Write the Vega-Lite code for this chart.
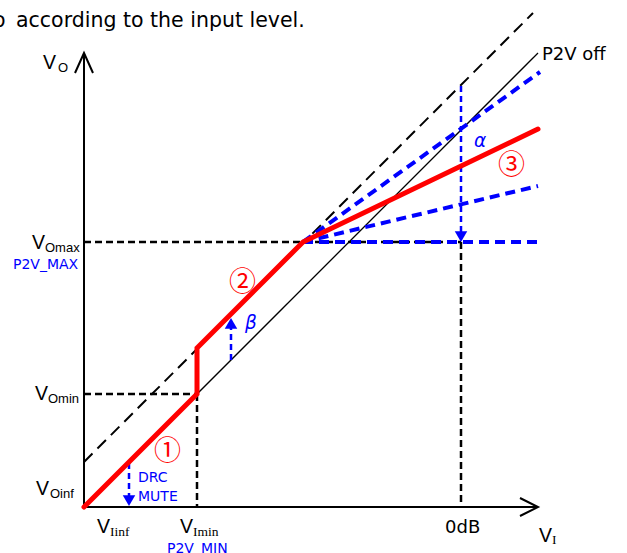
{
  "$schema": "https://vega.github.io/schema/vega-lite/v6.json",
  "width": 627,
  "height": 553,
  "padding": 0,
  "autosize": {"type": "none"},
  "background": "white",
  "config": {"view": {"stroke": null}},
  "datasets": {
    "paths": [
      {"g": "axis", "id": "a1", "o": 1, "x": 84, "y": 507},
      {"g": "axis", "id": "a1", "o": 2, "x": 84, "y": 55},
      {"g": "axis", "id": "a2", "o": 1, "x": 75, "y": 73},
      {"g": "axis", "id": "a2", "o": 2, "x": 84, "y": 53},
      {"g": "axis", "id": "a2", "o": 3, "x": 93, "y": 73},
      {"g": "axis", "id": "a3", "o": 1, "x": 84, "y": 507},
      {"g": "axis", "id": "a3", "o": 2, "x": 537, "y": 507},
      {"g": "axis", "id": "a4", "o": 1, "x": 520, "y": 498},
      {"g": "axis", "id": "a4", "o": 2, "x": 538, "y": 507},
      {"g": "axis", "id": "a4", "o": 3, "x": 520, "y": 516},
      {"g": "thin", "id": "p", "o": 1, "x": 84, "y": 507},
      {"g": "thin", "id": "p", "o": 2, "x": 538, "y": 53},
      {"g": "dlong", "id": "d", "o": 1, "x": 84, "y": 462},
      {"g": "dlong", "id": "d", "o": 2, "x": 533, "y": 13},
      {"g": "dshort", "id": "h1", "o": 1, "x": 84, "y": 242},
      {"g": "dshort", "id": "h1", "o": 2, "x": 461, "y": 242},
      {"g": "dshort", "id": "h2", "o": 1, "x": 84, "y": 394},
      {"g": "dshort", "id": "h2", "o": 2, "x": 197, "y": 394},
      {"g": "dshort", "id": "v1", "o": 1, "x": 197, "y": 394},
      {"g": "dshort", "id": "v1", "o": 2, "x": 197, "y": 507},
      {"g": "dshort", "id": "v2", "o": 1, "x": 461, "y": 242},
      {"g": "dshort", "id": "v2", "o": 2, "x": 461, "y": 507},
      {"g": "bthick", "id": "b1", "o": 1, "x": 303, "y": 242},
      {"g": "bthick", "id": "b1", "o": 2, "x": 540, "y": 72},
      {"g": "bthick", "id": "b2", "o": 1, "x": 303, "y": 242},
      {"g": "bthick", "id": "b2", "o": 2, "x": 538, "y": 186},
      {"g": "bthick", "id": "b3", "o": 1, "x": 303, "y": 242},
      {"g": "bthick", "id": "b3", "o": 2, "x": 538, "y": 242},
      {"g": "bthin", "id": "t1", "o": 1, "x": 461, "y": 86},
      {"g": "bthin", "id": "t1", "o": 2, "x": 461, "y": 232},
      {"g": "bthin", "id": "t2", "o": 1, "x": 231, "y": 360},
      {"g": "bthin", "id": "t2", "o": 2, "x": 231, "y": 328},
      {"g": "bthin", "id": "t3", "o": 1, "x": 129, "y": 463},
      {"g": "bthin", "id": "t3", "o": 2, "x": 129, "y": 496},
      {"g": "red", "id": "r", "o": 1, "x": 84, "y": 507},
      {"g": "red", "id": "r", "o": 2, "x": 197, "y": 394},
      {"g": "red", "id": "r", "o": 3, "x": 197, "y": 348},
      {"g": "red", "id": "r", "o": 4, "x": 303, "y": 242},
      {"g": "red", "id": "r", "o": 5, "x": 538, "y": 129}
    ],
    "heads": [
      {"x": 461, "y": 236.6, "dir": "down"},
      {"x": 231, "y": 323.4, "dir": "up"},
      {"x": 129, "y": 500.6, "dir": "down"}
    ],
    "labels": [
      {"k": "title", "t": "o", "x": -7, "y": 27},
      {"k": "title", "t": "according to the input level.", "x": 16, "y": 27},
      {"k": "V", "t": "V", "x": 43, "y": 69},
      {"k": "subO", "t": "O", "x": 58, "y": 72},
      {"k": "V", "t": "V", "x": 32, "y": 249},
      {"k": "subO", "t": "Omax", "x": 45, "y": 252},
      {"k": "V", "t": "V", "x": 35, "y": 400},
      {"k": "subO", "t": "Omin", "x": 48, "y": 403},
      {"k": "V", "t": "V", "x": 36, "y": 495},
      {"k": "subO", "t": "Oinf", "x": 50, "y": 498},
      {"k": "V", "t": "V", "x": 97, "y": 533},
      {"k": "subI", "t": "Iinf", "x": 110, "y": 536},
      {"k": "V", "t": "V", "x": 180, "y": 533},
      {"k": "subI", "t": "Imin", "x": 193, "y": 536},
      {"k": "V", "t": "V", "x": 539, "y": 542},
      {"k": "subI", "t": "I", "x": 552, "y": 544},
      {"k": "black", "t": "0dB", "x": 445, "y": 533},
      {"k": "black", "t": "P2V off", "x": 542, "y": 60},
      {"k": "blue", "t": "P2V_MAX", "x": 13, "y": 269},
      {"k": "blue", "t": "P2V_MIN", "x": 167, "y": 552.5},
      {"k": "blue", "t": "DRC", "x": 138, "y": 482},
      {"k": "blue", "t": "MUTE", "x": 138, "y": 501},
      {"k": "greek", "t": "α", "x": 474, "y": 147},
      {"k": "greek", "t": "β", "x": 245, "y": 329},
      {"k": "circ", "t": "①", "x": 167.5, "y": 452},
      {"k": "circ", "t": "②", "x": 242.5, "y": 283},
      {"k": "circ", "t": "③", "x": 511.5, "y": 165.5}
    ]
  },
  "encoding": {
    "x": {"field": "x", "type": "quantitative", "scale": {"domain": [0, 627], "nice": false, "zero": false}, "axis": null},
    "y": {"field": "y", "type": "quantitative", "scale": {"domain": [0, 553], "reverse": true, "nice": false, "zero": false}, "axis": null}
  },
  "layer": [
    {
      "data": {"name": "paths"},
      "transform": [{"filter": "datum.g == 'thin'"}],
      "mark": {"type": "line", "color": "black", "strokeWidth": 1.3},
      "encoding": {"detail": {"field": "id"}, "order": {"field": "o", "type": "quantitative"}}
    },
    {
      "data": {"name": "paths"},
      "transform": [{"filter": "datum.g == 'dlong'"}],
      "mark": {"type": "line", "color": "black", "strokeWidth": 2, "strokeDash": [12, 7]},
      "encoding": {"detail": {"field": "id"}, "order": {"field": "o", "type": "quantitative"}}
    },
    {
      "data": {"name": "paths"},
      "transform": [{"filter": "datum.g == 'dshort'"}],
      "mark": {"type": "line", "color": "black", "strokeWidth": 2.5, "strokeDash": [7, 4]},
      "encoding": {"detail": {"field": "id"}, "order": {"field": "o", "type": "quantitative"}}
    },
    {
      "data": {"name": "paths"},
      "transform": [{"filter": "datum.g == 'axis'"}],
      "mark": {"type": "line", "color": "black", "strokeWidth": 2},
      "encoding": {"detail": {"field": "id"}, "order": {"field": "o", "type": "quantitative"}}
    },
    {
      "data": {"name": "paths"},
      "transform": [{"filter": "datum.g == 'bthick'"}],
      "mark": {"type": "line", "color": "#0000ff", "strokeWidth": 4, "strokeDash": [10, 6]},
      "encoding": {"detail": {"field": "id"}, "order": {"field": "o", "type": "quantitative"}}
    },
    {
      "data": {"name": "paths"},
      "transform": [{"filter": "datum.g == 'bthin'"}],
      "mark": {"type": "line", "color": "#0000ff", "strokeWidth": 2.5, "strokeDash": [6, 4]},
      "encoding": {"detail": {"field": "id"}, "order": {"field": "o", "type": "quantitative"}}
    },
    {
      "data": {"name": "heads"},
      "mark": {"type": "point", "filled": true, "color": "#0000ff", "opacity": 1, "size": 156, "strokeWidth": 0},
      "encoding": {
        "shape": {"field": "dir", "type": "nominal", "scale": {"domain": ["down", "up"], "range": ["triangle-down", "triangle-up"]}, "legend": null}
      }
    },
    {
      "data": {"name": "paths"},
      "transform": [{"filter": "datum.g == 'red'"}],
      "mark": {"type": "line", "color": "#ff0000", "strokeWidth": 5, "strokeCap": "round", "strokeJoin": "miter"},
      "encoding": {"detail": {"field": "id"}, "order": {"field": "o", "type": "quantitative"}}
    },
    {
      "data": {"name": "labels"},
      "transform": [{"filter": "datum.k == 'title'"}],
      "mark": {"type": "text", "align": "left", "baseline": "alphabetic", "font": "DejaVu Sans", "fontSize": 20.5, "color": "black"},
      "encoding": {"text": {"field": "t"}}
    },
    {
      "data": {"name": "labels"},
      "transform": [{"filter": "datum.k == 'V'"}],
      "mark": {"type": "text", "align": "left", "baseline": "alphabetic", "font": "Liberation Sans", "fontSize": 19.5, "color": "black"},
      "encoding": {"text": {"field": "t"}}
    },
    {
      "data": {"name": "labels"},
      "transform": [{"filter": "datum.k == 'subO'"}],
      "mark": {"type": "text", "align": "left", "baseline": "alphabetic", "font": "Liberation Sans", "fontSize": 13, "color": "black"},
      "encoding": {"text": {"field": "t"}}
    },
    {
      "data": {"name": "labels"},
      "transform": [{"filter": "datum.k == 'subI'"}],
      "mark": {"type": "text", "align": "left", "baseline": "alphabetic", "font": "Liberation Serif", "fontSize": 13.5, "color": "black"},
      "encoding": {"text": {"field": "t"}}
    },
    {
      "data": {"name": "labels"},
      "transform": [{"filter": "datum.k == 'black'"}],
      "mark": {"type": "text", "align": "left", "baseline": "alphabetic", "font": "DejaVu Sans", "fontSize": 18, "color": "black"},
      "encoding": {"text": {"field": "t"}}
    },
    {
      "data": {"name": "labels"},
      "transform": [{"filter": "datum.k == 'blue'"}],
      "mark": {"type": "text", "align": "left", "baseline": "alphabetic", "font": "DejaVu Sans", "fontSize": 14, "color": "#0000ff"},
      "encoding": {"text": {"field": "t"}}
    },
    {
      "data": {"name": "labels"},
      "transform": [{"filter": "datum.k == 'greek'"}],
      "mark": {"type": "text", "align": "left", "baseline": "alphabetic", "font": "DejaVu Sans", "fontStyle": "italic", "fontSize": 18.5, "color": "#0000ff"},
      "encoding": {"text": {"field": "t"}}
    },
    {
      "data": {"name": "labels"},
      "transform": [{"filter": "datum.k == 'circ'"}],
      "mark": {"type": "text", "align": "center", "baseline": "middle", "font": "Noto Sans CJK JP", "fontSize": 27, "color": "#ff0000"},
      "encoding": {"text": {"field": "t"}}
    }
  ]
}
